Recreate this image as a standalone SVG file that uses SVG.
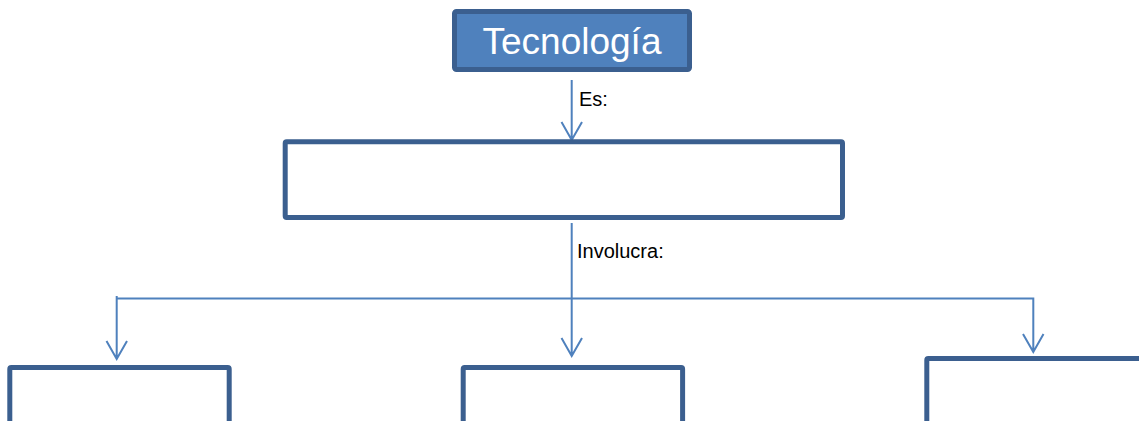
<svg xmlns="http://www.w3.org/2000/svg" width="1139" height="421" viewBox="0 0 1139 421">
<style>
.box{fill:#ffffff;stroke:#3B5F8F;stroke-width:5}
.top{fill:#4F81BD;stroke:#3B5F8F;stroke-width:5}
.con{fill:none;stroke:#4F81BD;stroke-width:2}
.lbl{font-family:"Liberation Sans",Arial,sans-serif;font-size:20px;fill:#000}
.title{font-family:"Liberation Sans",Arial,sans-serif;font-size:37px;fill:#fff}
</style>
<rect width="1139" height="421" fill="#fff"/>
<g id="connectors">
<path class="con" d="M571.7 80 V140 M561.5 122 L571.7 140 L582 122"/>
<path class="con" d="M571.7 223 V356 M561.5 338 L571.7 356 L582 338"/>
<path class="con" d="M116.7 296 V359 M106.5 341 L116.7 359 L127 341"/>
<path class="con" d="M116.7 298.5 H1033.3 V352 M1023 334 L1033.3 352 L1043.5 334"/>
<text class="lbl" x="579" y="106">Es:</text>
<text class="lbl" x="577" y="258">Involucra:</text>
</g>
<g id="node-tecnologia">
<rect class="top" x="454.5" y="11.5" width="235" height="58" rx="2"/>
<text class="title" x="572" y="54" text-anchor="middle">Tecnología</text>
</g>
<g id="node-es">
<rect class="box" x="285.2" y="141.8" width="557.3" height="75.7" rx="1.5"/>
</g>
<g id="node-left">
<rect class="box" x="9.8" y="367.5" width="219.4" height="70" rx="1.5"/>
</g>
<g id="node-middle">
<rect class="box" x="463.2" y="367.5" width="219.4" height="70" rx="1.5"/>
</g>
<g id="node-right">
<rect class="box" x="926.8" y="358.5" width="230" height="80" rx="1.5"/>
</g>
</svg>
